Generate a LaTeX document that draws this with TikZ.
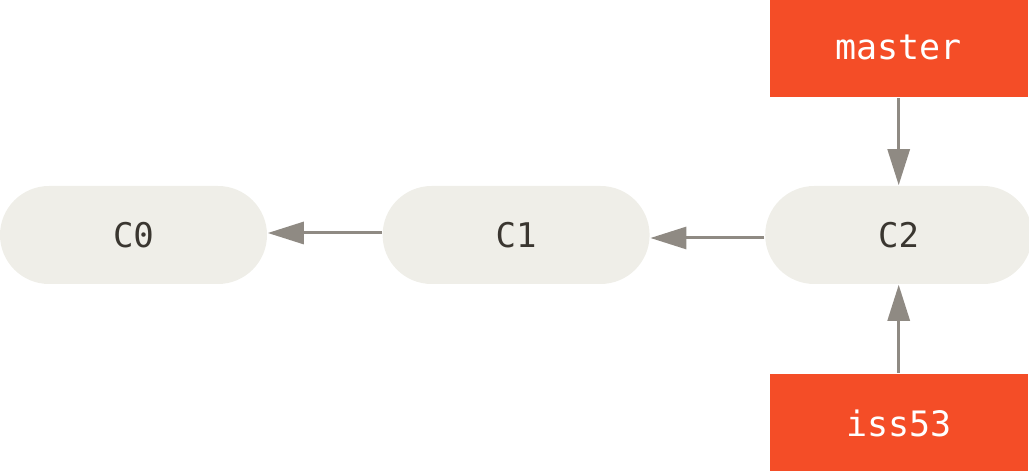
\documentclass[tikz,border=0pt]{standalone}
\usepackage{fontspec}
\setmonofont{DejaVu Sans Mono}
\usepackage{tikz}
\usetikzlibrary{positioning,arrows.meta}
\definecolor{commitfill}{HTML}{EFEEE8}
\definecolor{branchred}{HTML}{F44D27}
\definecolor{linkgrey}{HTML}{8F8A83}
\definecolor{commitink}{HTML}{3A3630}

\begin{document}
\begin{tikzpicture}[>={Triangle[length=18pt,width=11pt]},thick,
    commit/.style={rectangle,rounded corners=24.5pt,fill=commitfill,minimum width=133.5pt,minimum height=49pt,inner sep=0pt,font=\ttfamily\fontsize{17}{20}\selectfont,text=commitink},
    branch/.style={rectangle,fill=branchred,minimum width=129pt,minimum height=49.5pt,inner sep=0pt,font=\ttfamily\fontsize{17.5}{20}\selectfont,text=white},
    link/.style={->,draw=linkgrey,fill=linkgrey,line width=1.5pt}]

            \useasboundingbox (0,0) rectangle (514.5pt,235.5pt);

            \node[commit] (C0) at (66.75pt,118pt) {C0};
            \node[commit] (C1) [right=57pt of C0] {C1};
            \node[commit] (C2) [right=57pt of C1] {C2};
            \node[branch] (master) [above=43.5pt of C2] {master};
            \node[branch] (iss53) [below=44pt of C2] {iss53};

            \draw[link] ([yshift=1pt]C1.west) to ([yshift=1pt]C0.east);
            \draw[link] ([yshift=-1.5pt]C2.west) to ([yshift=-1.5pt]C1.east);
            \draw[link] (master) to (C2);
            \draw[link] (iss53) to (C2);

        \end{tikzpicture}
\end{document}
